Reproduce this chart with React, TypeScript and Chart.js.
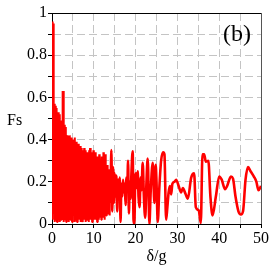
import React, { useEffect, useRef } from "react";
import { Chart, registerables } from "chart.js";

Chart.register(...registerables);

// Dense oscillating part: Fs sampled every 0.1 in δ/g, from 0 to 14
const denseStep = 0.1;
const denseFs = [
  0.10, 0.96, 0.02, 0.95, 0.05, 0.57, 0.01, 0.57, 0.03, 0.56,
  0.02, 0.55, 0.01, 0.53, 0.04, 0.53, 0.02, 0.51, 0.01, 0.52,
  0.03, 0.49, 0.02, 0.47, 0.05, 0.63, 0.02, 0.63, 0.01, 0.47,
  0.03, 0.47, 0.02, 0.46, 0.01, 0.42, 0.04, 0.41, 0.02, 0.42,
  0.01, 0.41, 0.05, 0.42, 0.02, 0.40, 0.03, 0.41, 0.01, 0.39,
  0.02, 0.40, 0.04, 0.39, 0.01, 0.41, 0.03, 0.38, 0.02, 0.39,
  0.01, 0.37, 0.05, 0.38, 0.02, 0.36, 0.03, 0.37, 0.01, 0.35,
  0.04, 0.36, 0.02, 0.35, 0.01, 0.35, 0.03, 0.36, 0.02, 0.32,
  0.01, 0.35, 0.04, 0.34, 0.02, 0.34, 0.03, 0.33, 0.01, 0.35,
  0.05, 0.36, 0.02, 0.34, 0.03, 0.34, 0.01, 0.32, 0.04, 0.35,
  0.02, 0.33, 0.05, 0.33, 0.02, 0.34, 0.03, 0.32, 0.01, 0.32,
  0.04, 0.31, 0.02, 0.33, 0.05, 0.31, 0.03, 0.30, 0.02, 0.32,
  0.06, 0.31, 0.03, 0.34, 0.05, 0.31, 0.02, 0.33, 0.06, 0.28,
  0.04, 0.26, 0.07, 0.28, 0.05, 0.25, 0.08, 0.26, 0.04, 0.23,
  0.10,
];

// Smoother tail: δ/g and Fs
const tailX = [
  14.2, 14.4, 14.6, 14.8, 15.0, 15.2, 15.4, 15.6, 15.8, 16.0,
  16.2, 16.4, 16.6, 16.8, 17.0, 17.2, 17.4, 17.6, 17.8, 18.0,
  18.2, 18.4, 18.6, 18.8, 19.0, 19.3, 19.5, 19.7, 19.9, 20.1,
  20.3, 20.5, 20.7, 20.95, 21.2, 21.4, 21.7, 22.0, 22.3, 22.6,
  22.9, 23.3, 23.6, 24.1, 24.5, 24.8, 25.0, 25.3, 25.7, 26.1,
  26.6, 26.9, 27.3, 27.6, 27.9, 28.2, 28.5, 28.8, 29.3, 29.7,
  30.3, 30.9, 31.3, 31.9, 32.5, 33.3, 34.0, 34.4, 35.1, 35.6,
  36.0, 36.4, 36.8, 37.4, 37.9, 38.4, 39.2, 40.0, 40.6, 41.4,
  41.9, 42.8, 43.3, 43.9, 44.6, 45.2, 45.7, 46.3, 46.9, 47.5,
  48.3, 48.9, 49.4, 50.0,
];
const tailFs = [
  0.35, 0.06, 0.27, 0.10, 0.24, 0.13, 0.23, 0.06, 0.21, 0.14,
  0.22, 0.01, 0.19, 0.13, 0.21, 0.15, 0.19, 0.09, 0.22, 0.16,
  0.30, 0.05, 0.20, 0.12, 0.24, 0.345, 0.02, 0.00, 0.20, 0.24,
  0.17, 0.25, 0.13, 0.08, 0.22, 0.16, 0.29, 0.12, 0.03, 0.20,
  0.31, 0.00, 0.15, 0.29, 0.10, 0.28, 0.20, 0.01, 0.18, 0.30,
  0.34, 0.33, 0.02, 0.08, 0.15, 0.18, 0.14, 0.19, 0.20, 0.21,
  0.18, 0.15, 0.17, 0.145, 0.12, 0.22, 0.24, 0.08, 0.065, 0.005,
  0.33, 0.33, 0.295, 0.30, 0.13, 0.04, 0.13, 0.225, 0.21, 0.165,
  0.18, 0.225, 0.215, 0.13, 0.06, 0.045, 0.06, 0.21, 0.27, 0.25,
  0.225, 0.20, 0.16, 0.18,
];

const xTickLabels = ["0", "10", "20", "30", "40", "50"];
const yTickLabels = ["0", "0.2", "0.4", "0.6", "0.8", "1"];
const panelLabel = "(b)";
const yTitle = "Fs";
const xTitle = "δ/g";

const FONT = "'Liberation Serif', 'Times New Roman', serif";

const framePlugin = {
  id: "frame",
  afterDraw(chart: any) {
    const { ctx, chartArea } = chart;
    const { left, right, top, bottom } = chartArea;
    ctx.save();
    ctx.lineWidth = 1;
    ctx.strokeStyle = "#000";
    ctx.beginPath();
    ctx.moveTo(left, top + 0.5);
    ctx.lineTo(right, top + 0.5);
    ctx.stroke();
    ctx.strokeStyle = "#555";
    ctx.beginPath();
    ctx.moveTo(right + 0.5, top);
    ctx.lineTo(right + 0.5, bottom);
    ctx.stroke();
    ctx.fillStyle = "#000";
    ctx.font = `24px ${FONT}`;
    ctx.textAlign = "center";
    ctx.textBaseline = "middle";
    ctx.fillText(panelLabel, 237, 35);
    ctx.font = `16px ${FONT}`;
    ctx.textAlign = "left";
    ctx.fillText(yTitle, 7, 121);
    ctx.restore();
  },
};

export default function App() {
  const ref = useRef<HTMLCanvasElement | null>(null);
  useEffect(() => {
    document.body.style.margin = "0";
    const canvas = ref.current;
    if (!canvas) return;
    const dense = denseFs.map((y, i) => ({ x: Math.round(i * denseStep * 10) / 10, y }));
    const tail = [dense[dense.length - 1], ...tailX.map((x, i) => ({ x, y: tailFs[i] }))];
    const chart = new Chart(canvas, {
      type: "line",
      data: {
        datasets: [
          {
            data: dense,
            borderColor: "#ff0000",
            borderWidth: 2,
            pointRadius: 0,
            tension: 0,
            borderJoinStyle: "bevel",
          },
          {
            data: tail,
            borderColor: "#ff0000",
            borderWidth: 2.6,
            pointRadius: 0,
            cubicInterpolationMode: "monotone",
            borderJoinStyle: "round",
          },
        ],
      },
      options: {
        responsive: false,
        animation: false,
        events: [],
        layout: { padding: { top: 13, right: 12, left: 0, bottom: 0 } },
        plugins: { legend: { display: false }, tooltip: { enabled: false } },
        scales: {
          x: {
            type: "linear",
            min: 0,
            max: 50,
            ticks: {
              stepSize: 5,
              autoSkip: false,
              maxRotation: 0,
              padding: 1,
              color: "#000",
              font: { family: FONT, size: 16 },
              callback: (v: any) => {
                const n = Number(v);
                return n % 10 === 0 ? xTickLabels[n / 10] : "";
              },
            },
            grid: { color: "#c4c4c4", lineWidth: 1, tickLength: 4, tickColor: "#000" },
            border: { display: true, color: "#000", width: 1, dash: [8, 4] },
            title: {
              display: true,
              text: xTitle,
              color: "#000",
              font: { family: FONT, size: 16 },
              padding: { top: 0, bottom: 7 },
            },
            afterFit: (s: any) => {
              s.height = 49;
            },
          },
          y: {
            type: "linear",
            min: 0,
            max: 1,
            ticks: {
              stepSize: 0.1,
              autoSkip: false,
              padding: 1,
              color: "#000",
              font: { family: FONT, size: 16 },
              callback: (v: any) => {
                const k = Math.round(Number(v) * 10);
                return k % 2 === 0 ? yTickLabels[k / 2] : "";
              },
            },
            grid: { color: "#c4c4c4", lineWidth: 1, tickLength: 4, tickColor: "#000" },
            border: { display: true, color: "#000", width: 1, dash: [8, 4] },
            afterFit: (s: any) => {
              s.width = 52;
            },
          },
        },
      },
      plugins: [framePlugin],
    } as any);
    return () => chart.destroy();
  }, []);
  return (
    <div style={{ width: 273, height: 273 }}>
      <canvas ref={ref} width={273} height={273} />
    </div>
  );
}
